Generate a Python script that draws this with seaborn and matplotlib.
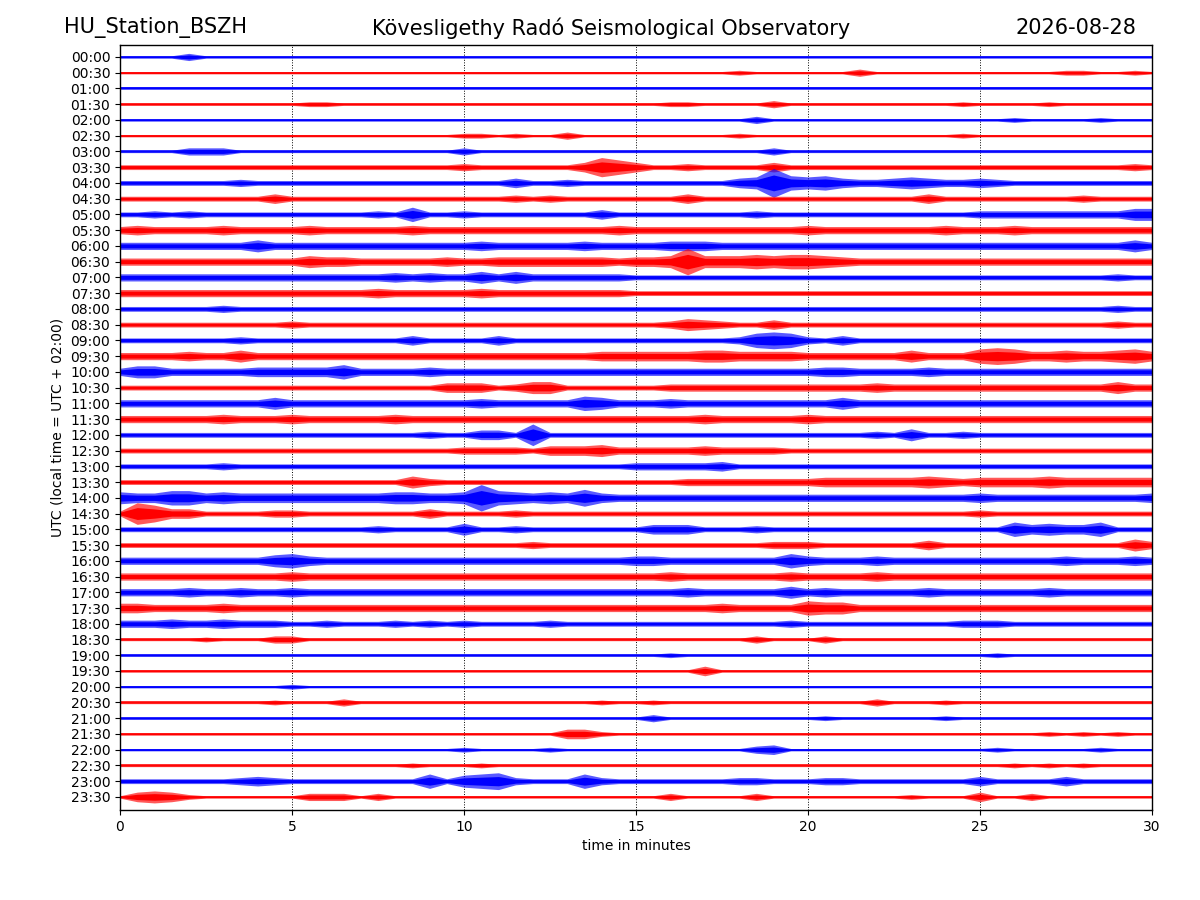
import numpy as np
import pandas as pd
import matplotlib
matplotlib.use("Agg")
import matplotlib.pyplot as plt
import seaborn as sns

# ---------------- data ----------------
station = "HU_Station_BSZH"
observatory = "Kövesligethy Radó Seismological Observatory"
date_str = "2026-08-28"

row_labels = [
    "00:00", "00:30", "01:00", "01:30", "02:00", "02:30", "03:00", "03:30",
    "04:00", "04:30", "05:00", "05:30", "06:00", "06:30", "07:00", "07:30",
    "08:00", "08:30", "09:00", "09:30", "10:00", "10:30", "11:00", "11:30",
    "12:00", "12:30", "13:00", "13:30", "14:00", "14:30", "15:00", "15:30",
    "16:00", "16:30", "17:00", "17:30", "18:00", "18:30", "19:00", "19:30",
    "20:00", "20:30", "21:00", "21:30", "22:00", "22:30", "23:00", "23:30",
]
row_colors = ["#0000ff", "#ff0000"] * 24

x_ticks = [0, 5, 10, 15, 20, 25, 30]

# sample times (minutes) of the envelope readings, every half minute
minutes = [0.0, 0.5, 1.0, 1.5, 2.0, 2.5, 3.0, 3.5, 4.0, 4.5,
           5.0, 5.5, 6.0, 6.5, 7.0, 7.5, 8.0, 8.5, 9.0, 9.5,
           10.0, 10.5, 11.0, 11.5, 12.0, 12.5, 13.0, 13.5, 14.0, 14.5,
           15.0, 15.5, 16.0, 16.5, 17.0, 17.5, 18.0, 18.5, 19.0, 19.5,
           20.0, 20.5, 21.0, 21.5, 22.0, 22.5, 23.0, 23.5, 24.0, 24.5,
           25.0, 25.5, 26.0, 26.5, 27.0, 27.5, 28.0, 28.5, 29.0, 29.5, 30.0]

# half-amplitude of each trace (base-36 digit per half minute, ~pixels)
envelopes = [
    "1111311111 1111111111 1111111111 1111111111 1111111111 1111111111 1",  # 00:00
    "1111111111 1111111111 1111111111 1111112111 1113111111 1111122112 1",  # 00:30
    "1111111111 1111111111 1111111111 1111111111 1111111111 1111111111 1",  # 01:00
    "1111111111 1221111111 1111111111 1122111131 1111111112 1111211111 1",  # 01:30
    "1111111111 1111111111 1111111111 1111111311 1111111111 1121111211 1",  # 02:00
    "1111111111 1111111111 2212113111 1111112111 1111111112 1111111111 1",  # 02:30
    "1111333111 1111111111 3111111111 1111111131 1111111111 1111111111 1",  # 03:00
    "2222222222 2222222222 3222222486 4223222242 2222222222 2222222223 2",  # 03:30
    "2222222322 2222222222 2224223222 22222245c6 5643345433 4322222222 2",  # 04:00
    "2222222224 2222222222 2223232222 2224222222 2222222422 2222223222 2",  # 04:30
    "2232322222 2222232622 3222222242 2222222322 2222222222 3333333335 5",  # 05:00
    "3433334333 3433333433 3333333334 3333333333 4333333343 3343333333 3",  # 05:30
    "3333333353 3333333333 3433333433 3344433333 3333333333 3333333335 3",  # 06:00
    "3333333333 3544333334 3344444443 445b555656 6543333333 3333333333 3",  # 06:30
    "3333333333 3333334343 3535333333 2222222222 2222222222 2222222232 2",  # 07:00
    "3333333333 3333343333 3433333333 2222222222 2222222222 2222222222 2",  # 07:30
    "2222223222 2222222222 2222222222 2222222222 2222222222 2222222232 2",  # 08:00
    "2222222222 3222222222 2222222222 2235432242 2222222222 2222222232 2",  # 08:30
    "2222222322 2222222422 2242222222 2222223676 3242222222 2222222222 2",  # 09:00
    "3333433533 3333333333 3333333344 4444554444 3333335333 6764454456 4",  # 09:30
    "3553333344 4446333343 3333333333 3333333333 3443333433 3333333333 3",  # 10:00
    "2222222222 2222222224 4423552222 2233333333 3333433333 3333333353 3",  # 10:30
    "3333333335 3333333333 3433333653 3343333333 3353333333 3333333333 3",  # 11:00
    "3333334333 4333334333 3333333333 3333433333 4333333333 3333333333 3",  # 11:30
    "2222222222 2222222232 2442922222 2222222222 2222325223 2222222222 2",  # 12:00
    "2222222222 2222222222 3333244453 3333433332 2222222222 2222222222 2",  # 12:30
    "2222223222 2222222222 2222222222 3333342222 2222222222 2222222222 2",  # 13:00
    "2222222222 2222222532 2222222222 2223333333 3444444543 4444544444 4",  # 13:30
    "5446645444 4444445544 5b65454743 3333333333 3333333333 4333333333 4",  # 14:00
    "2974422223 3222222242 2223222222 2222222222 2222222222 3222222222 2",  # 14:30
    "2222222222 2222232222 5223222222 2444222322 2222222222 2264544622 2",  # 15:00
    "2222222222 2222222222 2222322222 2222222233 3222222422 2222222225 3",  # 15:30
    "3333333335 6433333333 3333333333 4433333336 4333433333 3333343334 3",  # 16:00
    "3333333333 4333333333 3333333333 3343333334 3333433333 3333333333 3",  # 16:30
    "3333433433 4333333333 3333333333 3334333335 3433333433 3333433333 3",  # 17:00
    "4433334333 3333333333 3333333333 3333343333 6553333333 3333333333 3",  # 17:30
    "3334334333 2232223232 3222232222 2222222223 2222222223 3322222222 2",  # 18:00
    "1111121113 3111111111 1111111111 1111111311 1311111111 1111111111 1",  # 18:30
    "1111111111 1111111111 1111111111 1121111111 1111111111 1211111111 1",  # 19:00
    "1111111111 1111111111 1111111111 1111411111 1111111111 1111111111 1",  # 19:30
    "1111111111 2111111111 1111111111 1111111111 1111111111 1111111111 1",  # 20:00
    "1111111112 1113111111 1111111121 1211111111 1111311121 1111111111 1",  # 20:30
    "1111111111 1111111111 1111111111 1311111111 1211111121 1111111111 1",  # 21:00
    "1111111111 1111111111 1111114421 1111111111 1111111111 1111212121 1",  # 21:30
    "1111111111 1111111111 2111121111 1111111341 1111111111 1211111211 1",  # 22:00
    "1111111111 1111111211 1211111111 1111111111 1111111111 1121212111 1",  # 22:30
    "2222222343 2222222262 5673222632 2222223322 2332222222 4222242222 2",  # 23:00
    "1454211111 1333131111 1111111111 1131111311 1111112111 4113111111 1",  # 23:30
]

# ---------------- drawing ----------------
ROW_PX = 15.74        # pixel spacing between traces
PX_PER_UNIT = 1.2     # pixels per envelope unit
CORE = 0.55           # dense core as fraction of envelope

sns.set_style("ticks")
plt.rcParams["font.family"] = ["DejaVu Sans"]
for k in ["text.color", "axes.labelcolor", "xtick.color", "ytick.color",
          "axes.edgecolor"]:
    plt.rcParams[k] = "black"

fig = plt.figure(figsize=(12, 9), dpi=100)
ax = fig.add_axes([0.1, 0.1, 0.86, 0.85])

t = np.asarray(minutes)
for i, (env, col) in enumerate(zip(envelopes, row_colors)):
    amp = np.array([int(c, 36) for c in env.replace(" ", "")], dtype=float)
    amp = amp * PX_PER_UNIT / ROW_PX
    outer = pd.DataFrame({"t": np.concatenate([t, t]),
                          "y": np.concatenate([i - amp, i + amp])})
    inner = pd.DataFrame({"t": np.concatenate([t, t]),
                          "y": np.concatenate([i - CORE * amp, i + CORE * amp])})
    sns.lineplot(data=outer, x="t", y="y", color=col, errorbar=("pi", 100),
                 err_kws={"alpha": 0.65, "linewidth": 0},
                 linewidth=0, ax=ax, legend=False)
    sns.lineplot(data=inner, x="t", y="y", color=col, errorbar=("pi", 100),
                 err_kws={"alpha": 1.0, "linewidth": 0},
                 linewidth=1.1, ax=ax, legend=False)

ax.set_xlim(0, 30)
ax.set_ylim(47.83, -0.76)
ax.set_yticks(range(len(row_labels)))
ax.set_yticklabels(row_labels, fontsize=10)
ax.set_xticks(x_ticks)
ax.set_xticklabels([str(v) for v in x_ticks], fontsize=10)
ax.set_axisbelow(True)
ax.xaxis.grid(True, linestyle=":", color="black", linewidth=0.7)
ax.yaxis.grid(False)
ax.set_xlabel("time in minutes", fontsize=10)
ax.set_ylabel("UTC (local time = UTC + 02:00)", fontsize=10)
for s in ax.spines.values():
    s.set_visible(True)
    s.set_color("black")
    s.set_linewidth(1.0)
ax.tick_params(colors="black", length=3.5)

fig.text(0.053, 0.969, station, fontsize=15, ha="left", va="center")
fig.text(0.509, 0.969, observatory, fontsize=15, ha="center", va="center")
fig.text(0.947, 0.969, date_str, fontsize=15, ha="right", va="center")

fig.savefig("out.png", dpi=100)
